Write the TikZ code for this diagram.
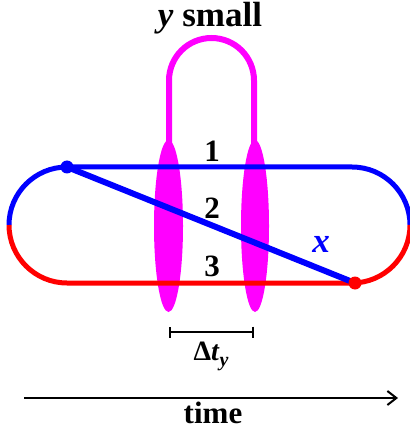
\documentclass[tikz,border=0pt]{standalone}
\usepackage{fontspec}
\setmainfont{Liberation Serif}
\usetikzlibrary{arrows.meta}
\definecolor{pulse}{RGB}{255,0,255}
\colorlet{pathblue}{blue}
\colorlet{pathred}{red}

\begin{document}
\begin{tikzpicture}[x=1pt,y=-1pt,>={Straight Barb[length=9pt,width=14pt]},
  lbl/.style={font=\fontsize{31}{31}\selectfont\bfseries}]
\useasboundingbox (0,0) rectangle (409,435);
\node[font=\fontsize{35}{35}\selectfont\bfseries,anchor=base] (title) at (210,27) {\itshape y\upshape\ small};
% pulses
\fill[pulse] (168.5,226) ellipse (14.5 and 86);
\fill[pulse] (255,226) ellipse (14 and 86);
\draw[pulse,line width=6pt] (169,150) -- (169,80.5) arc[start angle=180,end angle=360,radius=42.5] -- (254,150);
% paths
\draw[pathblue,line width=5pt] (9,225) arc[start angle=180,end angle=270,radius=58] -- (352,167) arc[start angle=-90,end angle=0,radius=58];
\draw[pathred,line width=5pt] (9,225) arc[start angle=180,end angle=90,radius=58] -- (352,283) arc[start angle=90,end angle=0,radius=58];
\coordinate (xstart) at (67,167);
\coordinate (xend) at (355,283);
\draw[pathblue,line width=6pt] (xstart) -- (xend);
\fill[pathblue] (xstart) circle (6.5);
\fill[pathred] (xend) circle (6.5);
\node[lbl] (one) at (212,151) {1};
\node[lbl] (two) at (212,208) {2};
\node[lbl] (three) at (212,266) {3};
\node[lbl,pathblue,font=\fontsize{35}{35}\selectfont\bfseries] (xlbl) at (321,244) {\itshape x};
% delay
\coordinate (dl) at (169,332);
\coordinate (dr) at (254,332);
\draw[{Bar[width=11pt]}-{Bar[width=11pt]},line width=2pt] (dl) -- (dr);
\node[font=\fontsize{28}{28}\selectfont\bfseries,anchor=base] (delay) at (211,360) {Δ\textit{t}\raisebox{-0.22em}{\fontsize{20}{20}\selectfont\itshape y}};
% time axis
\coordinate (t0) at (24,398);
\coordinate (t1) at (398,398);
\draw[->,line width=2pt] (t0) -- (t1);
\node[lbl,anchor=base] (time) at (213,423) {time};
\end{tikzpicture}
\end{document}
